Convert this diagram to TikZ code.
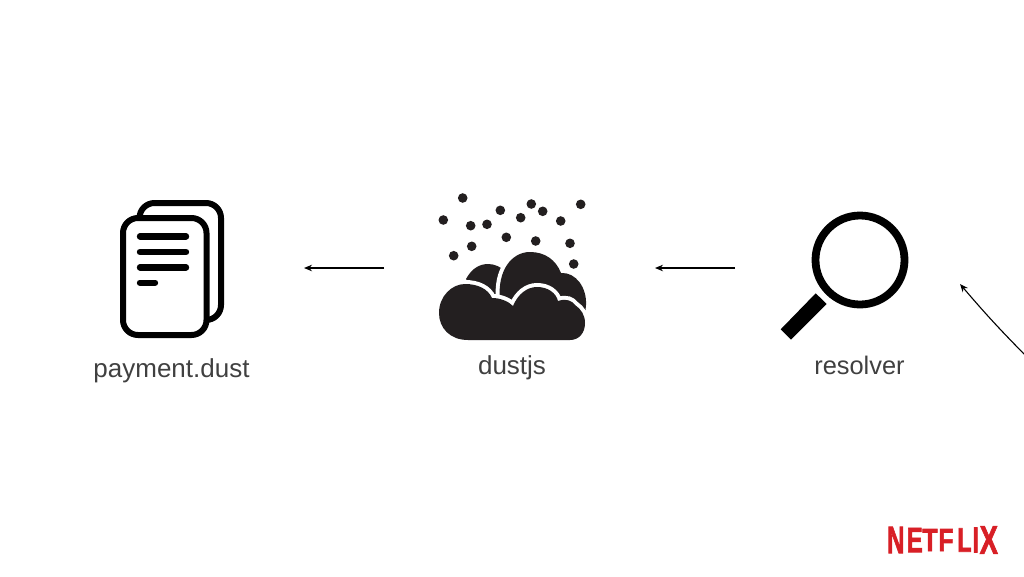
\documentclass[tikz,border=0pt]{standalone}
\usepackage{fontspec}
\setmainfont{Liberation Sans}
\newfontfamily\logofont[FakeBold=2.2]{Liberation Sans Bold}
\usetikzlibrary{arrows.meta}
\definecolor{labelgray}{HTML}{404040}
\definecolor{dustgray}{HTML}{231F20}
\definecolor{logored}{HTML}{D81F26}
\tikzset{
	flow/.style={-{Stealth[length=8pt,width=6.5pt]}, line width=1.1pt, black},
	iconarea/.style={minimum height=20pt, inner sep=0pt, outer sep=0pt},
	caption/.style={text=labelgray, font=\fontsize{26}{30}\selectfont, inner sep=0pt, anchor=base},
	pagesheet/.style={line width=6pt, black, rounded corners=15pt},
	textline/.style={line width=6.4pt, line cap=round, black},
	cloudpart/.style={fill=dustgray, preaction={draw=white, line width=8pt}},
	speck/.style={circle, fill=dustgray, minimum size=9.6pt, inner sep=0pt},
	logoletter/.style={text=logored, font=\fontsize{40}{40}\logofont, inner sep=0pt}
}
\begin{document}
\begin{tikzpicture}[x=1pt, y=-1pt]
		\useasboundingbox (0,0) rectangle (1024,576);
		
		%page icon
		\draw[pagesheet] (139.5,222) |- (221,203) -- (221,320) -- (207,320);
		\draw[pagesheet, fill=white] (123,218) rectangle (206.5,335);
		\foreach \y in {236.3, 252, 267.3}{
			\draw[textline] (140,\y)--(186,\y);
		}
		\draw[textline] (140,282.7)--(155,282.7);
		
		%cloud icon
		\fill[dustgray] (466,279) .. controls (472,268) and (480,264) .. (488,264) .. controls (495,264) and (500,267) .. (504,270) -- (510,305) -- (480,300) -- cycle;
		\path[cloudpart] (500,300) .. controls (497,270) and (512,252) .. (530,252) .. controls (545,252) and (556,260) .. (561,273) .. controls (576,272) and (587,288) .. (586,305) -- (584,325) -- (505,325) -- cycle;
		\path[cloudpart] (468,340) .. controls (450,340) and (439,328) .. (439,313) .. controls (439,296) and (452,284) .. (465,284) .. controls (478,284) and (488,289) .. (492,298) .. controls (500,298) and (508,301) .. (513,306) .. controls (518,294) and (527,287) .. (537,287) .. controls (548,287) and (556,293) .. (558,301) .. controls (567,298) and (572,301) .. (575,305) .. controls (581,309) and (585,315) .. (585,323) .. controls (585,333) and (579,340) .. (570,340) -- cycle;
		\foreach \x/\y [count=\i] in {462.7/198, 443.3/220, 470.7/225.7, 487/224.3, 500.3/210.3, 520.7/217.7, 531.3/204, 542.7/211.3, 560.7/221, 580.7/204.3, 506.3/237.3, 535.7/241, 570/243.3, 471.7/246.3, 453.7/255.7, 573.7/264}{
			\node[speck] (speck\i) at (\x,\y){};
		}
		
		%magnifier icon
		\draw[line width=7.8pt, black] (860,260) circle (44.5);
		\fill[black] (815.7,293.3)--(826.7,304)--(791,339.7)--(780.7,329.3)--cycle;
		
		%labels
		\node[caption] (paymentlabel) at (171.5,377){payment.dust};
		\node[caption] (dustjslabel) at (512,374.5){dustjs};
		\node[caption, font=\fontsize{25.4}{30}\selectfont] (resolverlabel) at (859.5,374.5){resolver};
		
		%arrows
		\node[iconarea, minimum width=264pt] (payment) at (172,268){};
		\node[iconarea, minimum width=271pt] (dustjs) at (519.5,268){};
		\node[iconarea, minimum width=225pt] (resolver) at (847.5,268){};
		\coordinate (offpage) at (1024,354);
		\coordinate (resolverin) at (960,284);
		\draw[flow] (dustjs.west) -- (payment.east);
		\draw[flow] (resolver.west) -- (dustjs.east);
		\draw[flow] (offpage) to[bend left=2] (resolverin);
		
		%logo
		\foreach \letter/\x/\sx/\sy [count=\i] in {N/895.8/0.60/0.96, E/914.7/0.60/0.88, T/930/0.62/0.80, F/946/0.62/0.80, L/964.5/0.58/0.85, I/975.8/0.56/0.90, X/988.8/0.68/0.99}{
			\node[logoletter] (logo\i) at (\x,540){\scalebox{\sx}[\sy]{\letter}};
		}
\end{tikzpicture}
\end{document}
